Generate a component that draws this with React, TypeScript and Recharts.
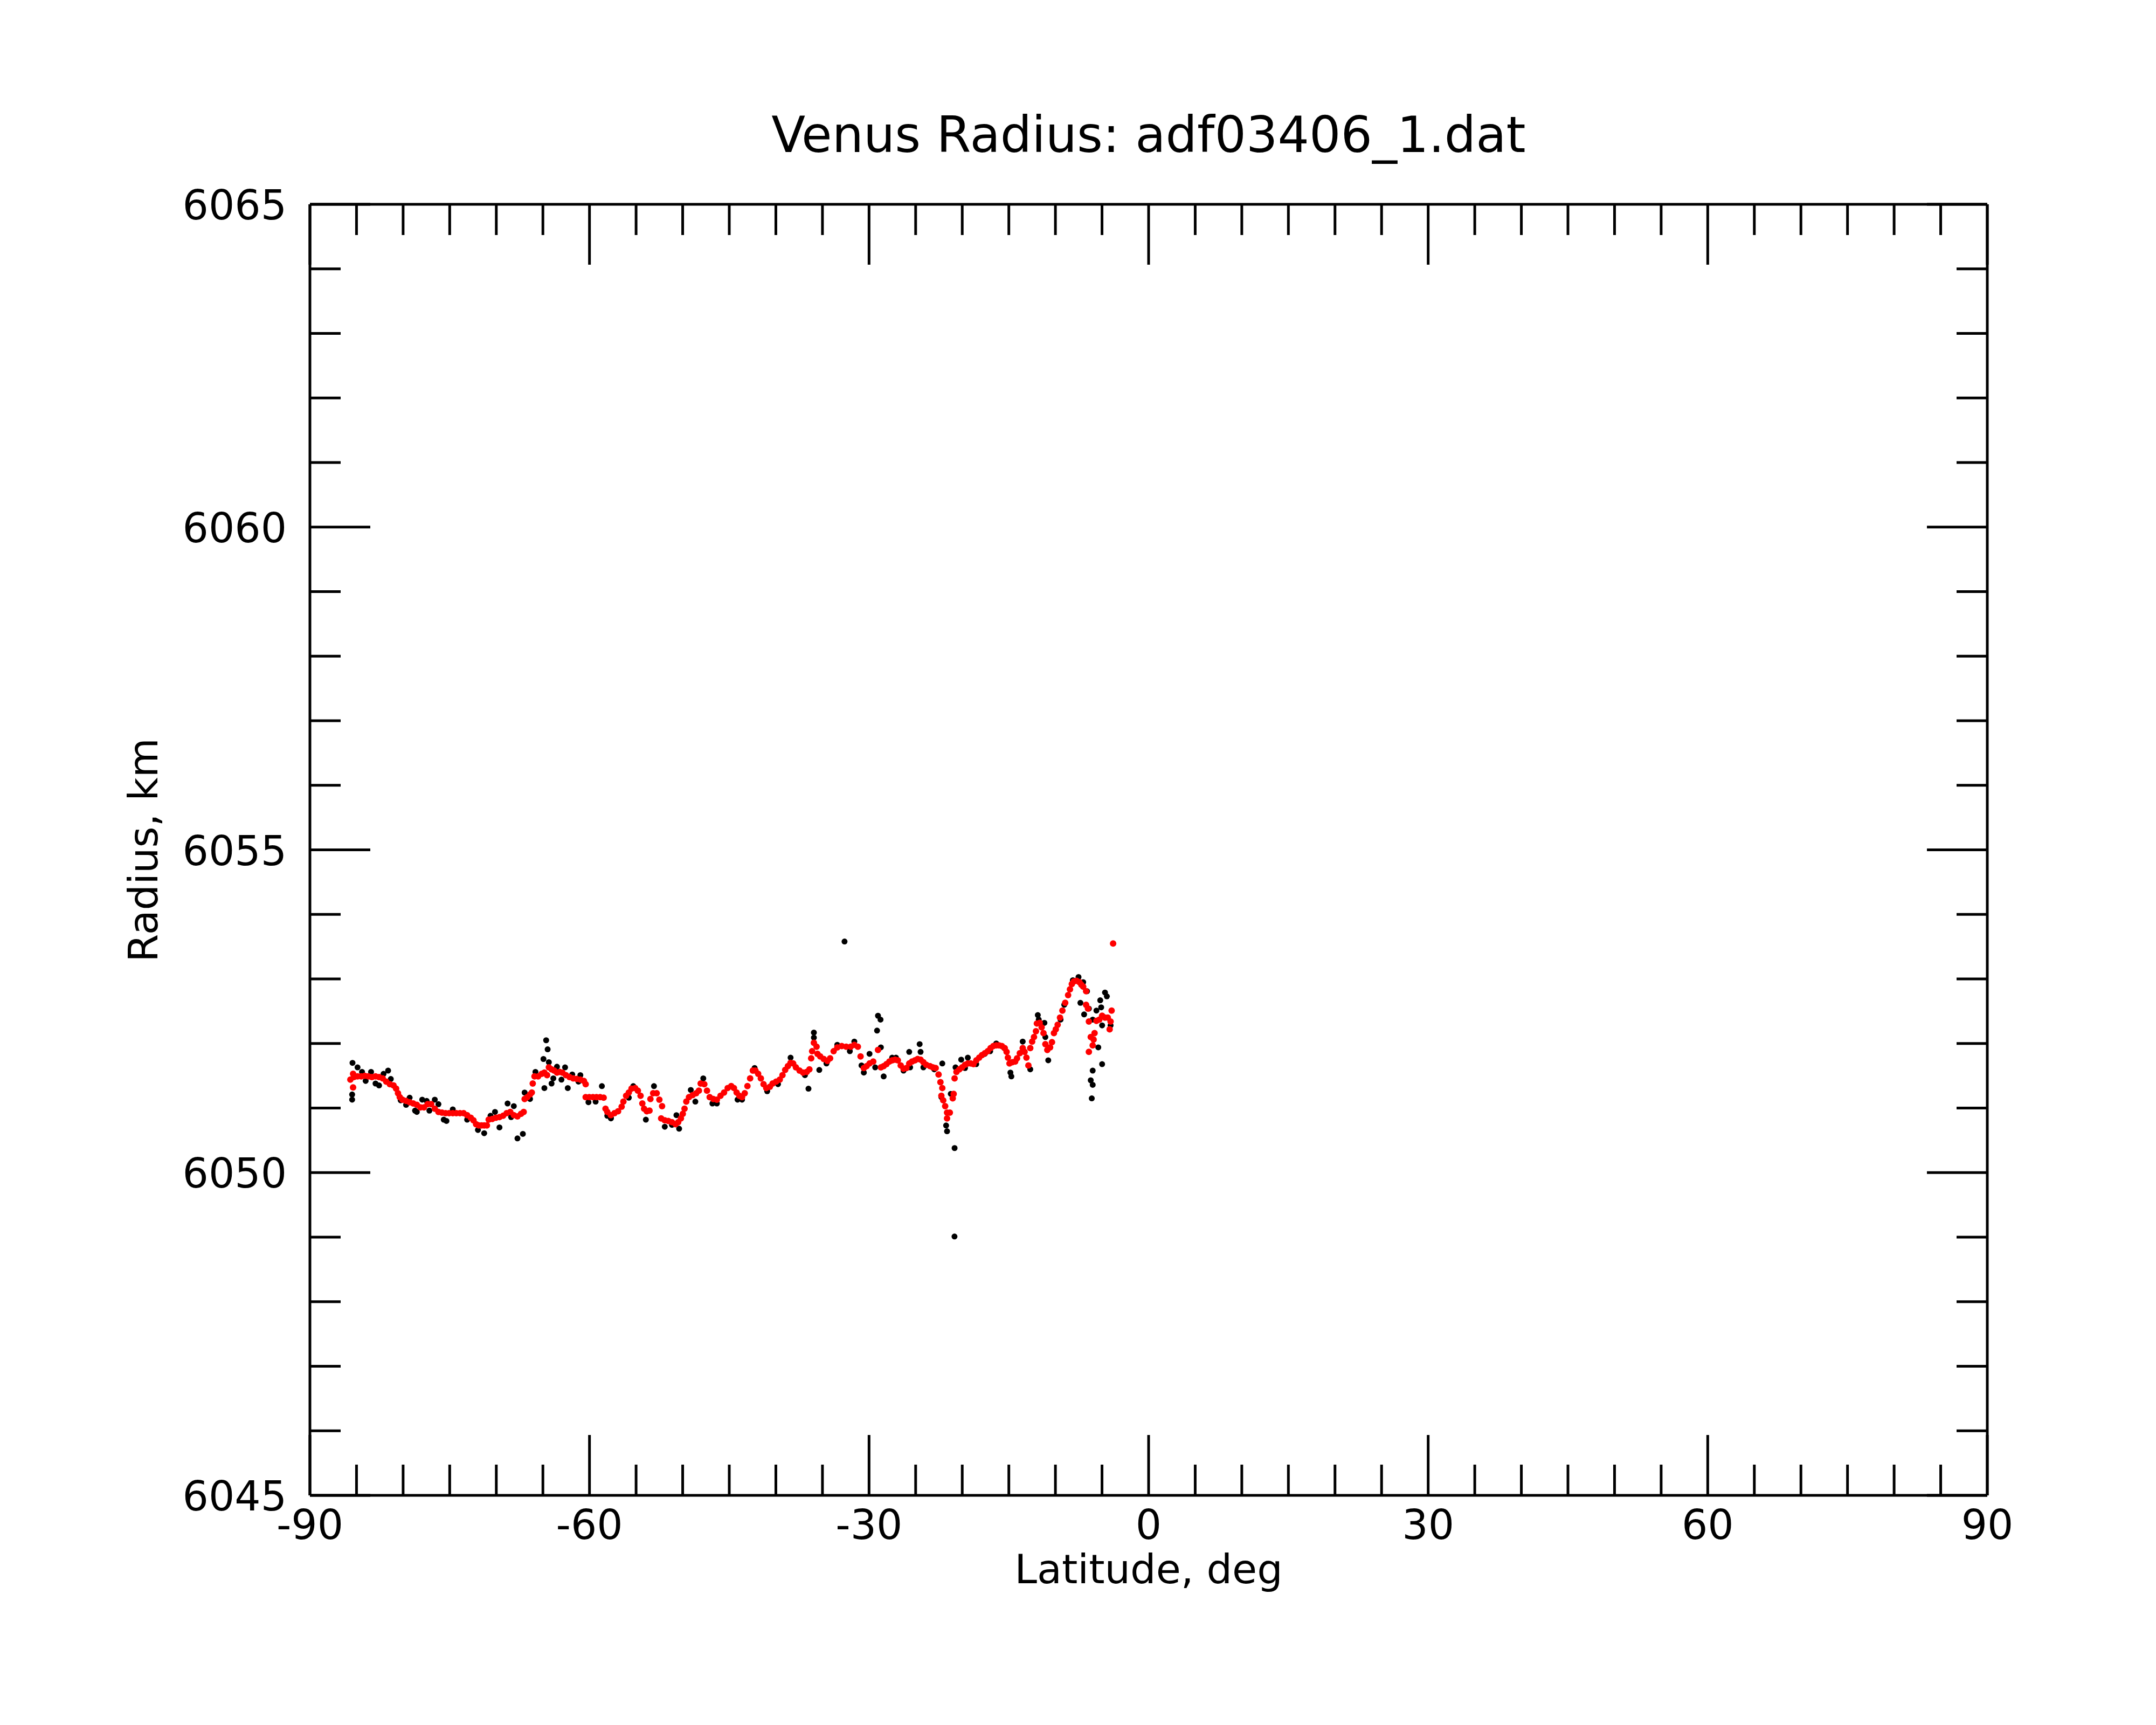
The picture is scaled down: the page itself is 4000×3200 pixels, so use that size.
import { Scatter, ScatterChart, XAxis, YAxis } from "recharts";

// smoothed radius profile (red)
const smoothLat = [
  -85.66, -85.37, -85.37, -85.28, -84.89, -84.5, -84.12, -83.73, -83.35, -82.96, -82.58, -82.19, -81.81, -81.42,
  -81.03, -80.75, -80.55, -80.36, -80.07, -79.68, -79.3, -78.91, -78.53, -78.14, -77.76, -77.37, -76.99, -76.6,
  -76.21, -75.83, -75.44, -75.06, -74.67, -74.29, -73.9, -73.51, -73.13, -72.74, -72.45, -72.17, -71.88, -71.59,
  -71.3, -71.01, -70.82, -70.43, -70.04, -69.66, -69.27, -68.89, -68.5, -68.12, -67.73, -67.35, -67.06, -66.96,
  -66.67, -66.38, -66.19, -66.09, -65.9, -65.51, -65.13, -64.84, -64.55, -64.36, -64.07, -63.78, -63.49, -63.2,
  -62.91, -62.53, -62.14, -61.75, -61.37, -60.98, -60.6, -60.41, -60.41, -60.02, -59.63, -59.25, -58.86, -58.48,
  -58.28, -58.09, -57.71, -57.32, -56.93, -56.55, -56.36, -56.07, -55.78, -55.49, -55.1, -54.81, -54.52, -54.33,
  -54.14, -53.85, -53.56, -53.46, -53.17, -52.79, -52.5, -52.21, -52.31, -51.92, -51.54, -51.15, -50.76, -50.48,
  -50.19, -49.99, -49.8, -49.61, -49.32, -48.93, -48.55, -48.26, -48.07, -47.68, -47.39, -47.1, -46.72, -46.33,
  -45.94, -45.56, -45.17, -44.79, -44.5, -44.21, -43.92, -43.63, -43.34, -43.05, -42.76, -42.47, -42.19, -41.9,
  -41.61, -41.32, -41.03, -40.64, -40.35, -39.97, -39.58, -39.29, -39.0, -38.71, -38.43, -38.14, -37.85, -37.46,
  -37.08, -36.69, -36.4, -36.21, -36.11, -35.92, -35.63, -35.53, -35.24, -34.86, -34.47, -34.18, -33.8, -33.41,
  -32.93, -32.45, -31.97, -31.58, -31.2, -30.91, -30.56, -30.26, -29.95, -29.55, -29.04, -28.73, -28.43, -28.13,
  -27.82, -27.52, -27.21, -26.91, -26.6, -26.3, -25.99, -25.69, -25.39, -25.08, -24.78, -24.47, -24.17, -23.86,
  -23.46, -23.15, -22.85, -22.54, -22.34, -22.14, -22.24, -22.04, -21.83, -21.63, -21.63, -21.33, -21.02, -20.92,
  -20.82, -20.62, -20.31, -20.01, -19.7, -19.4, -19.09, -18.79, -18.49, -18.18, -17.88, -17.57, -17.27, -16.96,
  -16.66, -16.35, -16.05, -15.75, -15.44, -15.24, -15.1, -14.93, -14.63, -14.32, -14.12, -13.82, -13.51, -13.31,
  -13.11, -12.9, -12.7, -12.5, -12.3, -12.09, -11.99, -11.69, -11.48, -11.28, -11.08, -10.87, -10.57, -10.37,
  -10.16, -9.96, -9.76, -9.51, -9.25, -8.95, -8.64, -8.44, -8.24, -8.03, -7.73, -7.42, -7.22, -7.02, -6.71, -6.71,
  -6.51, -6.41, -6.21, -6.41, -6.0, -5.9, -5.8, -5.6, -5.29, -4.99, -4.68, -4.38, -4.18, -4.08, -3.97, -3.81,
];
const smoothRadius = [
  6051.44, 6051.53, 6051.32, 6051.48, 6051.49, 6051.49, 6051.5, 6051.49, 6051.48, 6051.49, 6051.48, 6051.46, 6051.41, 6051.37,
  6051.35, 6051.3, 6051.23, 6051.17, 6051.13, 6051.11, 6051.09, 6051.07, 6051.05, 6051.01, 6051.01, 6051.06, 6051.06, 6050.99,
  6050.94, 6050.93, 6050.92, 6050.92, 6050.92, 6050.92, 6050.92, 6050.92, 6050.89, 6050.85, 6050.81, 6050.75, 6050.73, 6050.73,
  6050.73, 6050.73, 6050.82, 6050.83, 6050.85, 6050.86, 6050.88, 6050.92, 6050.94, 6050.89, 6050.87, 6050.91, 6050.94, 6051.14,
  6051.17, 6051.21, 6051.24, 6051.38, 6051.49, 6051.49, 6051.53, 6051.55, 6051.51, 6051.63, 6051.6, 6051.58, 6051.55, 6051.56,
  6051.55, 6051.51, 6051.48, 6051.46, 6051.45, 6051.44, 6051.42, 6051.37, 6051.17, 6051.17, 6051.17, 6051.17, 6051.17, 6051.16,
  6050.99, 6050.94, 6050.89, 6050.92, 6050.95, 6051.02, 6051.1, 6051.19, 6051.24, 6051.3, 6051.31, 6051.27, 6051.19, 6051.07,
  6050.99, 6050.95, 6050.96, 6051.14, 6051.23, 6051.23, 6051.13, 6051.03, 6050.84, 6050.81, 6050.8, 6050.78, 6050.75, 6050.78,
  6050.84, 6050.91, 6050.99, 6051.1, 6051.17, 6051.2, 6051.23, 6051.27, 6051.38, 6051.37, 6051.27, 6051.17, 6051.14, 6051.13,
  6051.19, 6051.24, 6051.31, 6051.34, 6051.31, 6051.24, 6051.19, 6051.17, 6051.23, 6051.34, 6051.46, 6051.58, 6051.58, 6051.53,
  6051.46, 6051.37, 6051.31, 6051.33, 6051.38, 6051.41, 6051.44, 6051.51, 6051.59, 6051.65, 6051.7, 6051.69, 6051.63, 6051.58,
  6051.55, 6051.56, 6051.6, 6051.77, 6051.88, 6052.01, 6051.95, 6051.84, 6051.8, 6051.76, 6051.73, 6051.77, 6051.88, 6051.94,
  6051.96, 6051.95, 6051.95, 6051.98, 6051.95, 6051.8, 6051.62, 6051.65, 6051.69, 6051.72, 6051.9, 6051.63, 6051.65, 6051.68,
  6051.72, 6051.74, 6051.75, 6051.74, 6051.66, 6051.61, 6051.62, 6051.69, 6051.72, 6051.74, 6051.76, 6051.75, 6051.71, 6051.67,
  6051.65, 6051.63, 6051.62, 6051.52, 6051.4, 6051.31, 6051.19, 6051.12, 6051.03, 6050.93, 6050.84, 6050.93, 6051.15, 6051.22,
  6051.46, 6051.56, 6051.6, 6051.63, 6051.67, 6051.69, 6051.69, 6051.68, 6051.74, 6051.78, 6051.82, 6051.85, 6051.88, 6051.93,
  6051.96, 6051.97, 6051.97, 6051.96, 6051.93, 6051.87, 6051.78, 6051.69, 6051.71, 6051.72, 6051.77, 6051.85, 6051.93, 6051.87,
  6051.78, 6051.66, 6051.93, 6052.03, 6052.1, 6052.19, 6052.31, 6052.32, 6052.25, 6052.16, 6051.99, 6051.9, 6051.94, 6052.02,
  6052.16, 6052.22, 6052.29, 6052.4, 6052.51, 6052.63, 6052.75, 6052.84, 6052.92, 6052.96, 6052.97, 6052.95, 6052.91, 6052.88, 6052.81, 6052.6,
  6052.54, 6052.34, 6052.1, 6051.87, 6051.97, 6052.06, 6052.16, 6052.35, 6052.37, 6052.43, 6052.4, 6052.4, 6052.22, 6052.34, 6052.51, 6053.55,
];

// raw radius samples (black)
const rawLat = [
  -85.43, -85.47, -85.47, -84.89, -84.41, -84.02, -83.44, -82.96, -82.58, -82.1, -81.61, -81.32, -80.26, -79.68,
  -79.3, -78.72, -78.53, -77.95, -77.47, -77.18, -76.6, -76.21, -75.64, -75.35, -74.67, -73.13, -71.97, -71.3,
  -70.62, -70.14, -69.66, -68.79, -68.12, -68.41, -67.73, -67.15, -66.96, -66.38, -65.8, -64.84, -64.65, -64.49,
  -64.94, -64.36, -64.07, -63.88, -63.49, -63.01, -62.62, -62.33, -61.85, -61.18, -60.98, -60.11, -59.34, -58.67,
  -58.09, -57.7, -57.71, -55.78, -55.3, -53.95, -53.08, -51.92, -51.15, -50.67, -50.38, -49.13, -48.64, -47.79,
  -46.81, -46.33, -44.11, -43.63, -42.28, -40.93, -39.77, -38.42, -36.88, -36.5, -35.92, -35.92, -35.34, -34.57,
  -33.41, -32.63, -32.06, -31.58, -30.81, -30.56, -29.95, -29.34, -29.04, -28.77, -29.14, -28.73, -28.43, -27.52,
  -27.11, -26.3, -25.69, -25.59, -24.57, -24.47, -24.17, -23.0, -22.14, -22.24, -21.73, -21.63, -21.23, -20.83,
  -20.82, -20.72, -20.11, -19.7, -19.4, -18.5, -17.57, -17.0, -16.35, -15.5, -14.83, -14.73, -13.51, -12.7,
  -11.89, -11.79, -11.18, -11.08, -10.77, -9.45, -9.05, -8.13, -7.52, -7.02, -6.61, -7.32, -6.92, -6.41,
  -6.0, -5.6, -5.19, -5.09, -4.68, -4.48, -4.99, -5.4, -6.0, -6.21, -6.0, -6.1, -4.99, -4.08,
];
const rawRadius = [
  6051.7, 6051.21, 6051.13, 6051.63, 6051.56, 6051.42, 6051.56, 6051.38, 6051.35, 6051.53, 6051.58, 6051.45, 6051.12, 6051.05,
  6051.16, 6050.96, 6050.94, 6051.13, 6051.11, 6050.96, 6051.13, 6051.06, 6050.82, 6050.8, 6050.98, 6050.82, 6050.66, 6050.61,
  6050.88, 6050.94, 6050.7, 6051.07, 6051.03, 6050.86, 6050.53, 6050.6, 6051.24, 6051.14, 6051.56, 6051.31, 6052.05, 6051.91,
  6051.76, 6051.71, 6051.38, 6051.46, 6051.64, 6051.44, 6051.63, 6051.31, 6051.52, 6051.41, 6051.51, 6051.09, 6051.1, 6051.34,
  6050.88, 6050.84, 6050.85, 6051.16, 6051.34, 6050.82, 6051.34, 6050.71, 6050.74, 6050.89, 6050.68, 6051.28, 6051.1, 6051.46,
  6051.07, 6051.07, 6051.13, 6051.13, 6051.62, 6051.26, 6051.37, 6051.78, 6051.51, 6051.3, 6052.17, 6052.09, 6051.59, 6051.69,
  6051.98, 6053.58, 6051.88, 6052.03, 6051.66, 6051.55, 6051.84, 6051.63, 6052.43, 6052.37, 6052.2, 6051.94, 6051.49, 6051.78,
  6051.78, 6051.58, 6051.87, 6051.63, 6051.99, 6051.87, 6051.63, 6051.6, 6051.69, 6051.17, 6050.73, 6050.64, 6051.22, 6049.01,
  6050.38, 6051.63, 6051.75, 6051.62, 6051.78, 6051.68, 6051.84, 6051.88, 6052.0, 6051.93, 6051.55, 6051.49, 6052.03, 6051.6,
  6052.44, 6052.37, 6052.32, 6052.1, 6051.74, 6052.37, 6052.6, 6052.98, 6053.03, 6052.95, 6052.81, 6052.63, 6052.45, 6052.54,
  6052.37, 6052.51, 6052.67, 6052.56, 6052.79, 6052.73, 6052.28, 6051.94, 6051.58, 6051.43, 6051.36, 6051.15, 6051.68, 6052.28,
];

const latTicks = [
  -90, -85, -80, -75, -70, -65, -60, -55, -50, -45, -40, -35, -30, -25, -20, -15, -10, -5, 0,
  5, 10, 15, 20, 25, 30, 35, 40, 45, 50, 55, 60, 65, 70, 75, 80, 85, 90,
];
const radiusTicks = [
  6045, 6046, 6047, 6048, 6049, 6050, 6051, 6052, 6053, 6054, 6055,
  6056, 6057, 6058, 6059, 6060, 6061, 6062, 6063, 6064, 6065,
];

const smoothData = smoothLat.map((lat, i) => ({ lat, r: smoothRadius[i] }));
const rawData = rawLat.map((lat, i) => ({ lat, r: rawRadius[i] }));

const FONT = "DejaVu Sans";
const INK = "#000";
const W = 4000;
const H = 3200;
const LW = 5;
const MAJOR = 112;
const MINOR = 57;
const TICK_FS = 76;

const isMajorLat = (v: number) => v % 30 === 0;
const isMajorR = (v: number) => v % 5 === 0;

function BottomTick(props: any) {
  const { x, y, payload } = props;
  const major = isMajorLat(payload.value);
  return (
    <g>
      <line x1={x} y1={y} x2={x} y2={y - (major ? MAJOR : MINOR)} stroke={INK} strokeWidth={LW} />
      {major && (
        <text x={x} y={y + 81} textAnchor="middle" fontFamily={FONT} fontSize={TICK_FS} fill={INK}>
          {String(payload.value)}
        </text>
      )}
    </g>
  );
}

function TopTick(props: any) {
  const { x, y, payload } = props;
  const major = isMajorLat(payload.value);
  return <line x1={x} y1={y} x2={x} y2={y + (major ? MAJOR : MINOR)} stroke={INK} strokeWidth={LW} />;
}

function LeftTick(props: any) {
  const { x, y, payload } = props;
  const major = isMajorR(payload.value);
  return (
    <g>
      <line x1={x} y1={y} x2={x + (major ? MAJOR : MINOR)} y2={y} stroke={INK} strokeWidth={LW} />
      {major && (
        <text x={x - 43} y={y + 28} textAnchor="end" fontFamily={FONT} fontSize={TICK_FS} fill={INK}>
          {String(payload.value)}
        </text>
      )}
    </g>
  );
}

function RightTick(props: any) {
  const { x, y, payload } = props;
  const major = isMajorR(payload.value);
  return <line x1={x} y1={y} x2={x - (major ? MAJOR : MINOR)} y2={y} stroke={INK} strokeWidth={LW} />;
}

const dot = (fill: string, r: number) => (p: any) => <circle cx={p.cx} cy={p.cy} r={r} fill={fill} />;

export default function App() {
  const frame = { stroke: INK, strokeWidth: LW };
  // each axis is 1px thick, so the margins are one pixel short of the frame
  return (
    <div style={{ position: "absolute", left: 0, top: 0, width: W, height: H, background: "#fff" }}>
      <ScatterChart width={W} height={H} margin={{ top: 378, right: 312, bottom: 425, left: 574 }}>
        <XAxis
          xAxisId="b" orientation="bottom" type="number" dataKey="lat" domain={[-90, 90]} allowDataOverflow
          ticks={latTicks} interval={0} height={1} tickSize={0} tickMargin={0}
          axisLine={frame} tickLine={false} tick={<BottomTick />}
        />
        <XAxis
          xAxisId="t" orientation="top" type="number" dataKey="lat" domain={[-90, 90]} allowDataOverflow
          ticks={latTicks} interval={0} height={1} tickSize={0} tickMargin={0}
          axisLine={frame} tickLine={false} tick={<TopTick />}
        />
        <YAxis
          yAxisId="l" orientation="left" type="number" dataKey="r" domain={[6045, 6065]} allowDataOverflow
          ticks={radiusTicks} interval={0} width={1} tickSize={0} tickMargin={0}
          axisLine={frame} tickLine={false} tick={<LeftTick />}
        />
        <YAxis
          yAxisId="r" orientation="right" type="number" dataKey="r" domain={[6045, 6065]} allowDataOverflow
          ticks={radiusTicks} interval={0} width={1} tickSize={0} tickMargin={0}
          axisLine={frame} tickLine={false} tick={<RightTick />}
        />
        <Scatter data={rawData} xAxisId="b" yAxisId="l" shape={dot("#000000", 5.5)} isAnimationActive={false} />
        <Scatter data={smoothData} xAxisId="b" yAxisId="l" shape={dot("#ff0000", 6)} isAnimationActive={false} />
        <Scatter data={[]} xAxisId="t" yAxisId="r" isAnimationActive={false} />
      </ScatterChart>
      <svg width={W} height={H} style={{ position: "absolute", left: 0, top: 0, pointerEvents: "none" }}>
        <text x={2131} y={282} textAnchor="middle" fontFamily={FONT} fontSize={92} fill={INK}>
          Venus Radius: adf03406_1.dat
        </text>
        <text x={2131} y={2937} textAnchor="middle" fontFamily={FONT} fontSize={75} fill={INK}>
          Latitude, deg
        </text>
        <text x={292} y={1577} textAnchor="middle" fontFamily={FONT} fontSize={75} fill={INK} transform="rotate(-90 292 1577)">
          Radius, km
        </text>
      </svg>
    </div>
  );
}
